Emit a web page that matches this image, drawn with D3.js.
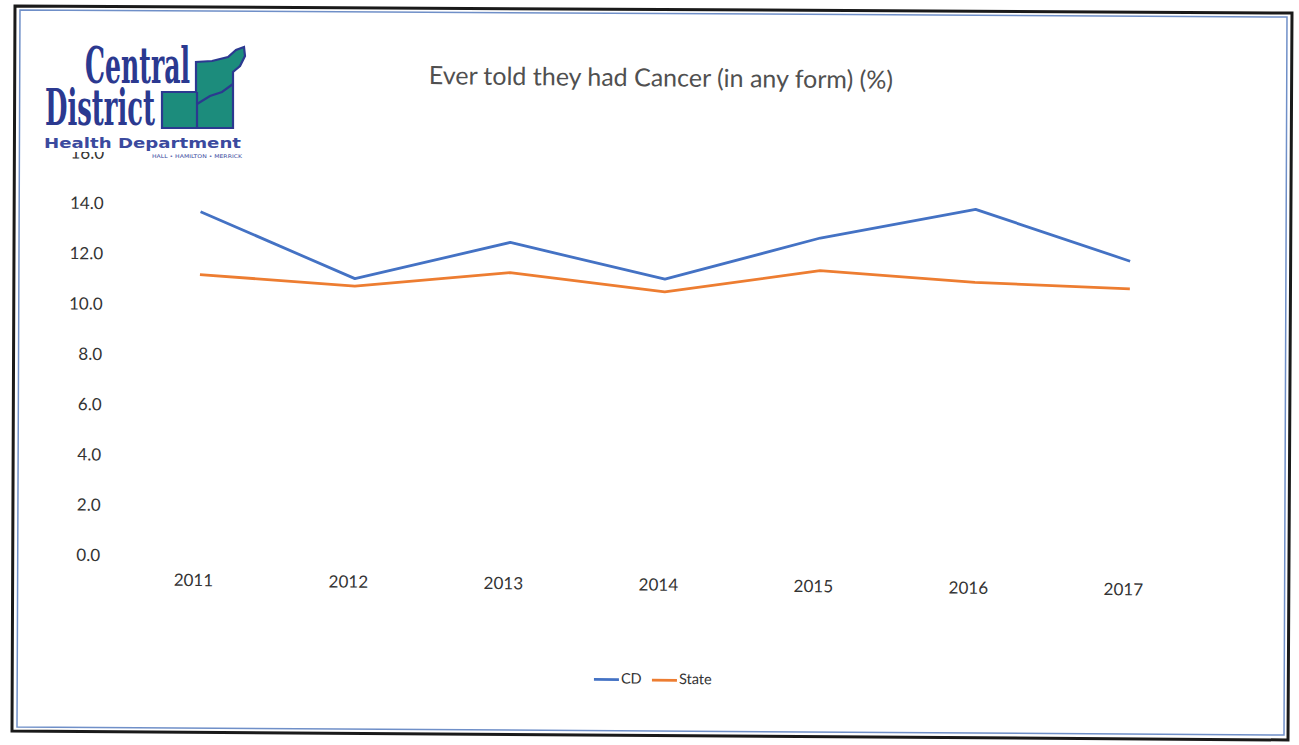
<!DOCTYPE html>
<html>
<head>
<meta charset="utf-8">
<script src="https://cdn.jsdelivr.net/npm/d3@7"></script>
<style>
  html, body { margin: 0; padding: 0; background: #fff; }
  svg { display: block; }
</style>
</head>
<body>
<svg id="chart" width="1299" height="745"></svg>
<script>
// ---- data ----
const years = ["2011", "2012", "2013", "2014", "2015", "2016", "2017"];
const cdValues = [13.7, 11.1, 12.6, 11.2, 12.9, 14.1, 12.1];
const stateValues = [11.2, 10.8, 11.4, 10.7, 11.6, 11.2, 11.0];
const yTicks = [0, 2, 4, 6, 8, 10, 12, 14, 16];
const seriesNames = ["CD", "State"];
const titleText = "Ever told they had Cancer (in any form) (%)";

const colors = { CD: "#4472C4", State: "#ED7D31" };
const svg = d3.select("#chart");
const FONT = "Lato, 'Open Sans', 'DejaVu Sans', sans-serif";

// scanned page frame
svg.append("path")
  .attr("d", "M15,6 L1292,13 L1288,740 L12,731 Z")
  .attr("fill", "#fff").attr("stroke", "#1a1a1a").attr("stroke-width", 3);
svg.append("path")
  .attr("d", "M20,10 L1287,17 L1284,735 L17,727 Z")
  .attr("fill", "none").attr("stroke", "#6f8fc8").attr("stroke-width", 1.5);

// chart content, slightly rotated like the scan
const g = svg.append("g").attr("transform", "rotate(0.57,650,372)");

const x = d3.scalePoint().domain(years).range([121.5, 1206.5]).padding(0.5);
const y = d3.scaleLinear().domain([0, 16]).range([560.6, 158.4]);

// title
g.append("text")
  .attr("x", 658).attr("y", 80)
  .attr("text-anchor", "middle").attr("dominant-baseline", "middle")
  .attr("font-family", FONT).attr("font-size", 25)
  .attr("fill", "#505050").text(titleText);

// y axis labels
const yAxis = d3.axisLeft(y).tickValues(yTicks).tickFormat(d3.format(".1f")).tickSize(0).tickPadding(0);
const yg = g.append("g").attr("transform", "translate(102,0)").call(yAxis);
yg.select(".domain").remove();
yg.selectAll("text").attr("font-family", FONT).attr("font-size", 17).attr("fill", "#333");

// x axis labels
const xAxis = d3.axisBottom(x).tickSize(0).tickPadding(0);
const xg = g.append("g").attr("transform", "translate(-4,578.5)").call(xAxis);
xg.select(".domain").remove();
xg.selectAll("text").attr("font-family", FONT).attr("font-size", 17).attr("fill", "#333");

// lines
const line = d3.line().x((d, i) => x(years[i])).y(d => y(d));
const series = [{ name: "CD", values: cdValues }, { name: "State", values: stateValues }];
g.selectAll("path.series").data(series).enter().append("path")
  .attr("class", "series")
  .attr("d", d => line(d.values))
  .attr("fill", "none")
  .attr("stroke", d => colors[d.name])
  .attr("stroke-width", 2.8)
  .attr("stroke-linejoin", "round");

// legend
const legendItems = [{ name: "CD", x0: 597 }, { name: "State", x0: 655 }];
const lg = g.append("g");
legendItems.forEach(it => {
  lg.append("line").attr("x1", it.x0).attr("x2", it.x0 + 25).attr("y1", 680).attr("y2", 680)
    .attr("stroke", colors[it.name]).attr("stroke-width", 2.8);
  lg.append("text").attr("x", it.x0 + 27).attr("y", 680).attr("dominant-baseline", "middle")
    .attr("font-family", FONT).attr("font-size", 14.5).attr("fill", "#333").text(it.name);
});

// logo (drawn over the top of the plot, hiding most of the "16.0" label)
const logo = svg.append("g");
logo.append("rect").attr("x", 38).attr("y", 36).attr("width", 212).attr("height", 116).attr("fill", "#fff");
logo.append("text").attr("x", 85).attr("y", 83)
  .attr("font-family", "'DejaVu Serif Condensed', 'DejaVu Serif', serif").attr("font-weight", "bold")
  .attr("font-size", 50).attr("fill", "#2b3990")
  .attr("textLength", 105).attr("lengthAdjust", "spacingAndGlyphs").text("Central");
logo.append("text").attr("x", 45).attr("y", 125)
  .attr("font-family", "'DejaVu Serif Condensed', 'DejaVu Serif', serif").attr("font-weight", "bold")
  .attr("font-size", 50).attr("fill", "#2b3990")
  .attr("textLength", 110).attr("lengthAdjust", "spacingAndGlyphs").text("District");
logo.append("path")
  .attr("d", "M162,92 L196,92 L196,62 L212,61 L228,57 L236,50 L244,47 L245,56 L240,66 L233,72 L233,128 L162,128 Z")
  .attr("fill", "#1c8c7c").attr("stroke", "#2b3990").attr("stroke-width", 2.2);
logo.append("path").attr("d", "M197,92 L197,128").attr("stroke", "#2b3990").attr("stroke-width", 2.2);
logo.append("path").attr("d", "M197,104 L210,96 L222,92 L233,84").attr("fill", "none").attr("stroke", "#2b3990").attr("stroke-width", 2.2);
logo.append("text").attr("x", 44).attr("y", 148)
  .attr("font-family", "'DejaVu Sans', sans-serif").attr("font-weight", "bold")
  .attr("font-size", 14).attr("fill", "#3b4a9e")
  .attr("textLength", 197).attr("lengthAdjust", "spacingAndGlyphs").text("Health Department");
logo.append("text").attr("x", 152).attr("y", 157.5)
  .attr("font-family", "'DejaVu Sans', sans-serif")
  .attr("font-size", 5).attr("fill", "#3b4a9e")
  .attr("textLength", 90).attr("lengthAdjust", "spacingAndGlyphs").text("HALL • HAMILTON • MERRICK");
</script>
</body>
</html>
